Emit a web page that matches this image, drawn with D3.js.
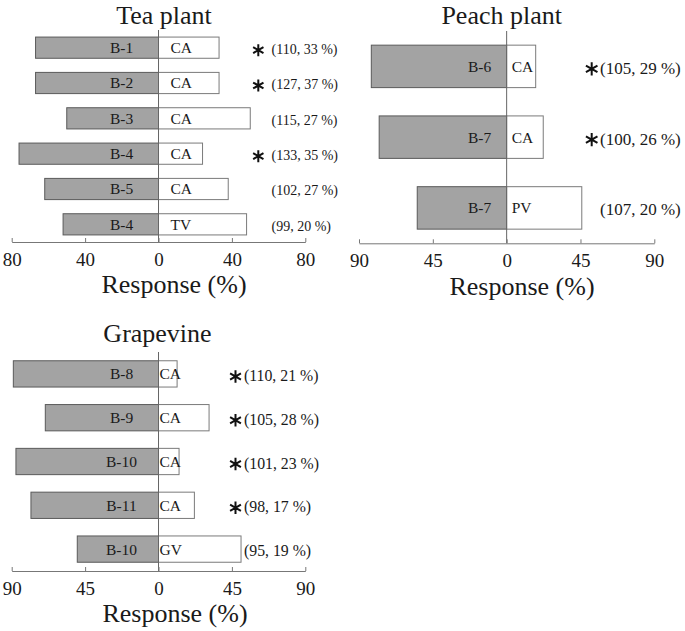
<!DOCTYPE html>
<html lang="en">
<head>
  <meta charset="utf-8" />
  <title>Response by plant</title>
  <style>
    html, body { margin: 0; background: #fff; }
    svg { display: block; }
  </style>
  <script src="https://cdn.jsdelivr.net/npm/d3@7"></script>
</head>
<body>
<script>
// ---- data ----
// tea plant
const teaBacteria = ["B-1", "B-2", "B-3", "B-4", "B-5", "B-4"];
const teaOdour    = ["CA", "CA", "CA", "CA", "CA", "TV"];
const teaLeft     = [67, 67, 50, 76, 62, 52];     // % to bacteria side
const teaRight    = [33, 33, 50, 24, 38, 48];     // % to plant side
const teaNotes    = ["(110, 33 %)", "(127, 37 %)", "(115, 27 %)", "(133, 35 %)", "(102, 27 %)", "(99, 20 %)"];
const teaSig      = [true, true, false, true, false, false];
const teaTicks    = [-80, -40, 0, 40, 80];

// peach plant
const peachBacteria = ["B-6", "B-7", "B-7"];
const peachOdour    = ["CA", "CA", "PV"];
const peachLeft     = [82.5, 77.7, 54.5];
const peachRight    = [17.7, 22.3, 45.8];
const peachNotes    = ["(105, 29 %)", "(100, 26 %)", "(107, 20 %)"];
const peachSig      = [true, true, false];
const peachTicks    = [-90, -45, 0, 45, 90];

// grapevine
const grapeBacteria = ["B-8", "B-9", "B-10", "B-11", "B-10"];
const grapeOdour    = ["CA", "CA", "CA", "CA", "GV"];
const grapeLeft     = [89, 69.4, 87.4, 78.2, 49.8];
const grapeRight    = [11.4, 31, 12.6, 22, 50.6];
const grapeNotes    = ["(110, 21 %)", "(105, 28 %)", "(101, 23 %)", "(98, 17 %)", "(95, 19 %)"];
const grapeSig      = [true, true, true, true, false];
const grapeTicks    = [-90, -45, 0, 45, 90];

// ---- layout ----
const W = 685, H = 631;
const FONT = "'Liberation Serif', 'Times New Roman', serif";
const INK = "#1a1a1a";
const svg = d3.select("body").append("svg").attr("width", W).attr("height", H);

const panels = [
  { title: "Tea plant", bacteria: teaBacteria, odour: teaOdour, left: teaLeft, right: teaRight,
    notes: teaNotes, sig: teaSig, ticks: teaTicks,
    xr: [11.7, 305.3], yr: [30, 242], titleX: 164, titleY: 24, respX: 174, respY: 293,
    leftOff: -37, rightOff: 12, starX: 258.3, noteX: 271.5, noteSize: 14, starSize: 100 },
  { title: "Peach plant", bacteria: peachBacteria, odour: peachOdour, left: peachLeft, right: peachRight,
    notes: peachNotes, sig: peachSig, ticks: peachTicks,
    xr: [359, 654.3], yr: [31, 243.3], titleX: 501.7, titleY: 24, respX: 522, respY: 295,
    leftOff: -27, rightOff: 5, starX: 591.7, noteX: 600, noteSize: 17, starSize: 125 },
  { title: "Grapevine", bacteria: grapeBacteria, odour: grapeOdour, left: grapeLeft, right: grapeRight,
    notes: grapeNotes, sig: grapeSig, ticks: grapeTicks,
    xr: [11.7, 305.3], yr: [352, 571], titleX: 157.5, titleY: 341.5, respX: 175, respY: 622,
    leftOff: -37, rightOff: 1, starX: 235.5, noteX: 244, noteSize: 15.8, starSize: 110 }
];

const starType = d3.symbolAsterisk || d3.symbolCross;

function label(sel) {
  return sel.attr("font-family", FONT).attr("fill", INK);
}

panels.forEach(p => {
  const g = svg.append("g");
  const max = d3.max(p.ticks);
  const x = d3.scaleLinear().domain([-max, max]).range(p.xr);
  const y = d3.scaleBand().domain(d3.range(p.bacteria.length)).range(p.yr)
      .paddingInner(0.4).paddingOuter(0.2);
  const x0 = x(0);
  const cy = i => y(i) + y.bandwidth() / 2;

  // title
  g.append("text").call(label).attr("x", p.titleX).attr("y", p.titleY)
    .attr("text-anchor", "middle").attr("font-size", 26).text(p.title);

  // bacteria side (grey)
  g.selectAll("rect.left").data(p.left).join("rect")
    .attr("class", "left")
    .attr("x", d => x(-d)).attr("width", d => x0 - x(-d))
    .attr("y", (d, i) => y(i)).attr("height", y.bandwidth())
    .attr("fill", "#a3a3a3").attr("stroke", "#5a5a5a").attr("stroke-width", 1);

  // plant side (white)
  g.selectAll("rect.right").data(p.right).join("rect")
    .attr("class", "right")
    .attr("x", x0).attr("width", d => x(d) - x0)
    .attr("y", (d, i) => y(i)).attr("height", y.bandwidth())
    .attr("fill", "#fff").attr("stroke", "#7a7a7a").attr("stroke-width", 1);

  // zero line
  g.append("line").attr("x1", x0).attr("x2", x0)
    .attr("y1", p.yr[0]).attr("y2", p.yr[1])
    .attr("stroke", "#666").attr("stroke-width", 1);

  g.selectAll("text.bact").data(p.bacteria).join("text")
    .attr("class", "bact").call(label)
    .attr("x", x0 + p.leftOff).attr("y", (d, i) => cy(i))
    .attr("dy", "0.35em").attr("text-anchor", "middle")
    .attr("font-size", 15.5).text(d => d);

  g.selectAll("text.odour").data(p.odour).join("text")
    .attr("class", "odour").call(label)
    .attr("x", x0 + p.rightOff).attr("y", (d, i) => cy(i))
    .attr("dy", "0.35em").attr("font-size", 15.5).text(d => d);

  g.selectAll("text.note").data(p.notes).join("text")
    .attr("class", "note").call(label)
    .attr("x", p.noteX).attr("y", (d, i) => cy(i) + 1.5)
    .attr("dy", "0.35em").attr("font-size", p.noteSize).text(d => d);

  g.selectAll("path.star").data(p.sig.map((s, i) => ({ s, i })).filter(d => d.s)).join("path")
    .attr("class", "star")
    .attr("transform", d => `translate(${p.starX},${cy(d.i) + 2.5})`)
    .attr("d", d3.symbol(starType, p.starSize))
    .attr("fill", "none").attr("stroke", "#111").attr("stroke-width", 2);

  // x axis
  const ax = g.append("g").attr("transform", `translate(0,${p.yr[1]})`)
    .call(d3.axisBottom(x).tickValues(p.ticks).tickSizeInner(-4).tickSizeOuter(0)
      .tickFormat(d => Math.abs(d)));
  ax.attr("font-family", FONT).attr("font-size", 19);
  ax.select(".domain").attr("stroke", "#777");
  ax.selectAll(".tick line").attr("stroke", "#777");
  ax.selectAll(".tick text").call(label).attr("y", 24).attr("dy", 0).attr("font-size", 19);

  g.append("text").call(label).attr("x", p.respX).attr("y", p.respY)
    .attr("text-anchor", "middle").attr("font-size", 26).text("Response (%)");
});
</script>
</body>
</html>
